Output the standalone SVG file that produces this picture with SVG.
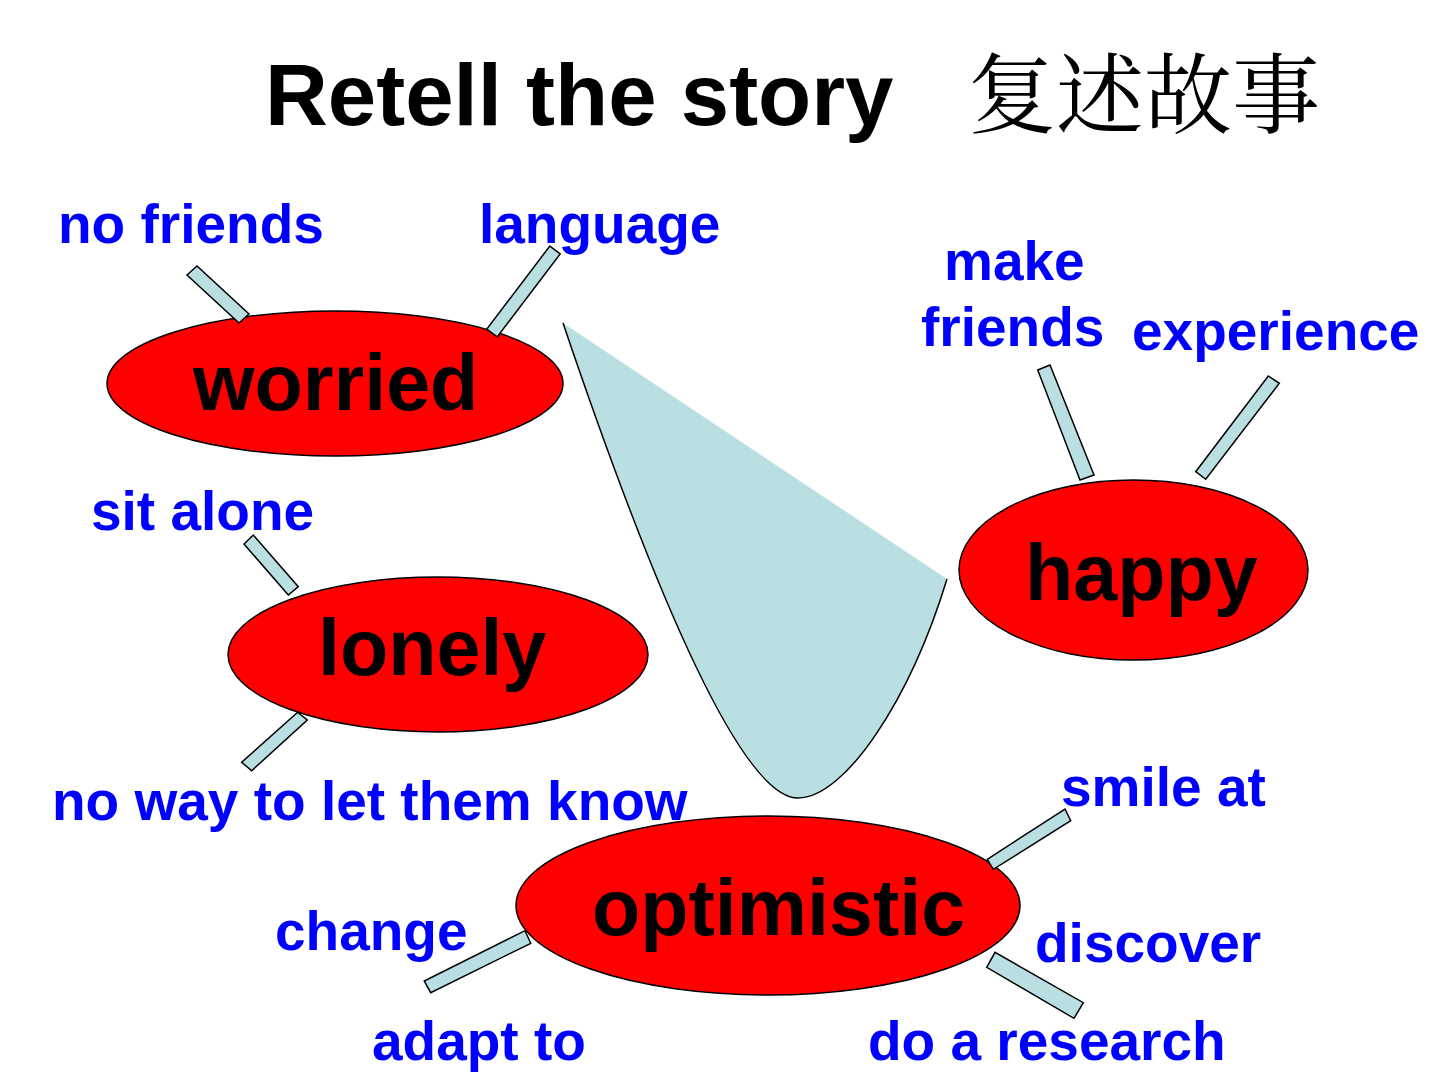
<svg xmlns="http://www.w3.org/2000/svg" width="1440" height="1080" viewBox="0 0 1440 1080">
<style>
.title{font-family:"Liberation Sans",Arial,sans-serif;font-weight:bold;font-size:87px;fill:#000}
.cjk{font-family:"Noto Serif CJK SC","Noto Sans CJK SC",serif;font-weight:normal;font-size:88px;fill:#000}
.node ellipse{fill:#ff0000;stroke:#000;stroke-width:1.5}
.node text{font-family:"Liberation Sans",Arial,sans-serif;font-weight:bold;font-size:79px;fill:#000}
.lbl{font-family:"Liberation Sans",Arial,sans-serif;font-weight:bold;font-size:55px;fill:#0000ff}
.bar{fill:#badfe3;stroke:#000;stroke-width:1.5;stroke-linejoin:miter}
</style>
<rect width="1440" height="1080" fill="#fff"/>
<text class="title" x="265" y="125">Retell the story<tspan class="cjk" x="968" y="126">复述故事</tspan></text>

<g id="blob">
<path d="M563,323 L947,579 C910,700 845,798 798,798 C740,798 650,580 563,323 Z" fill="#badfe3" stroke="none"/>
<path d="M947,579 C910,700 845,798 798,798 C740,798 650,580 563,323" fill="none" stroke="#000" stroke-width="1.5"/>
</g>

<g id="node-worried" class="node">
<ellipse cx="335" cy="383.5" rx="228" ry="72.5"/>
<text x="193" y="410">worried</text>
</g>
<g id="node-lonely" class="node">
<ellipse cx="438" cy="654.5" rx="210" ry="77.5"/>
<text x="318" y="675">lonely</text>
</g>
<g id="node-happy" class="node">
<ellipse cx="1133.5" cy="570" rx="174.5" ry="90"/>
<text x="1025" y="600">happy</text>
</g>
<g id="node-optimistic" class="node">
<ellipse cx="768" cy="905.5" rx="252" ry="89.5"/>
<text x="592" y="935">optimistic</text>
</g>

<g id="connectors">
<polygon class="bar" points="187,275 197,266 249,314 239,323"/>
<polygon class="bar" points="549.8,246.1 560.2,253.9 497.2,336.9 486.8,329.1"/>
<polygon class="bar" points="1037.7,370 1050,365 1094,475 1080,480"/>
<polygon class="bar" points="1268.3,376 1279.3,383.3 1205.7,479.3 1195.7,471.7"/>
<polygon class="bar" points="244,544 253.3,535 298.3,586.7 288.3,595"/>
<polygon class="bar" points="297.7,712.3 307.3,720 251.7,770.7 241.7,762.3"/>
<polygon class="bar" points="987.3,859.3 1065,809 1070.7,820.7 993.3,869.3"/>
<polygon class="bar" points="424.3,981 525,930.7 530.7,943.3 430.7,992.7"/>
<polygon class="bar" points="986.7,967.3 995,952.3 1083.3,1002.7 1074,1018.3"/>
</g>

<g id="labels">
<text class="lbl" x="58" y="243">no friends</text>
<text class="lbl" x="479" y="243">language</text>
<text class="lbl" x="944" y="280">make</text>
<text class="lbl" x="921" y="346">friends</text>
<text class="lbl" x="1132" y="350">experience</text>
<text class="lbl" x="91" y="530">sit alone</text>
<text class="lbl" x="52" y="820">no way to let them know</text>
<text class="lbl" x="1061" y="806">smile at</text>
<text class="lbl" x="275" y="950">change</text>
<text class="lbl" x="1035" y="962">discover</text>
<text class="lbl" x="372" y="1060">adapt to</text>
<text class="lbl" x="868" y="1060">do a research</text>
</g>
</svg>
